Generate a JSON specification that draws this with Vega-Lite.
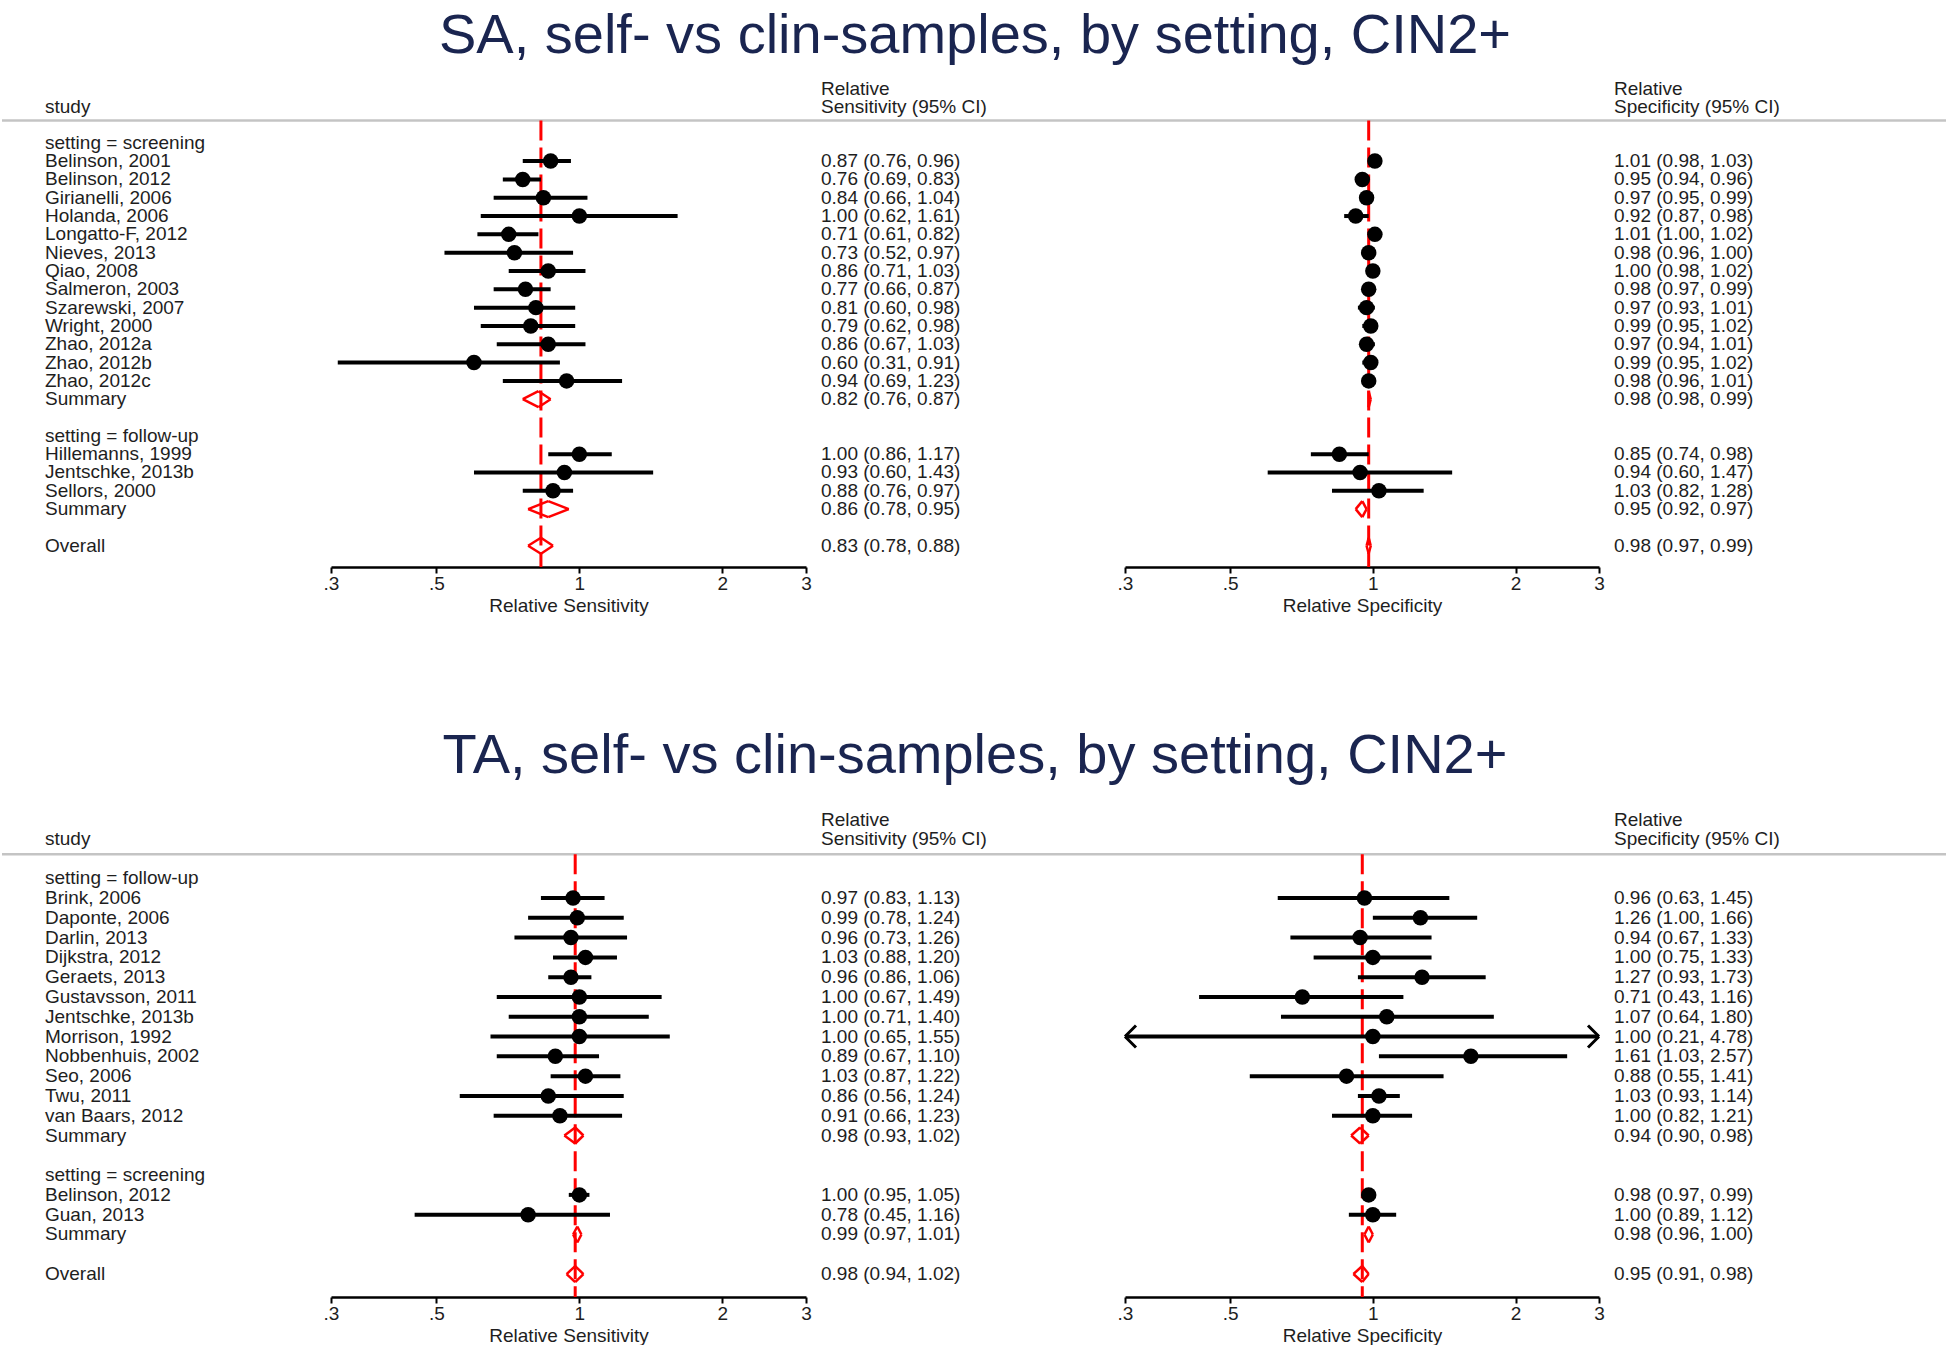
{
  "$schema": "https://vega.github.io/schema/vega-lite/v6.json",
  "padding": {"top": 8, "left": 0, "right": 0, "bottom": 0},
  "background": "white",
  "config": {
    "view": {"stroke": null},
    "font": "Liberation Sans",
    "text": {"font": "Liberation Sans", "fontSize": 19, "color": "#1e1e1e"},
    "axis": {
      "domainColor": "#000000", "domainWidth": 2.5,
      "tickColor": "#000000", "tickWidth": 2, "tickSize": 6,
      "labelFont": "Liberation Sans", "labelFontSize": 19, "labelColor": "#1e1e1e",
      "labelPadding": 1, "labelFlush": false, "labelOverlap": false,
      "titleFont": "Liberation Sans", "titleFontSize": 19, "titleFontWeight": "normal",
      "titleColor": "#1e1e1e", "titlePadding": 3, "grid": false
    },
    "title": {"font": "Liberation Sans", "fontSize": 56, "fontWeight": "normal", "color": "#1a2550", "anchor": "middle", "offset": 20, "baseline": "alphabetic"}
  },
  "datasets": {
    "sa": [
      {"row": 0, "kind": "group", "label": "setting = screening"},
      {"row": 1, "kind": "study", "label": "Belinson, 2001", "s": 0.87, "sl": 0.76, "sh": 0.96, "st": "0.87 (0.76, 0.96)", "p": 1.01, "pl": 0.98, "ph": 1.03, "pt": "1.01 (0.98, 1.03)"},
      {"row": 2, "kind": "study", "label": "Belinson, 2012", "s": 0.76, "sl": 0.69, "sh": 0.83, "st": "0.76 (0.69, 0.83)", "p": 0.95, "pl": 0.94, "ph": 0.96, "pt": "0.95 (0.94, 0.96)"},
      {"row": 3, "kind": "study", "label": "Girianelli, 2006", "s": 0.84, "sl": 0.66, "sh": 1.04, "st": "0.84 (0.66, 1.04)", "p": 0.97, "pl": 0.95, "ph": 0.99, "pt": "0.97 (0.95, 0.99)"},
      {"row": 4, "kind": "study", "label": "Holanda, 2006", "s": 1.00, "sl": 0.62, "sh": 1.61, "st": "1.00 (0.62, 1.61)", "p": 0.92, "pl": 0.87, "ph": 0.98, "pt": "0.92 (0.87, 0.98)"},
      {"row": 5, "kind": "study", "label": "Longatto-F, 2012", "s": 0.71, "sl": 0.61, "sh": 0.82, "st": "0.71 (0.61, 0.82)", "p": 1.01, "pl": 1.00, "ph": 1.02, "pt": "1.01 (1.00, 1.02)"},
      {"row": 6, "kind": "study", "label": "Nieves, 2013", "s": 0.73, "sl": 0.52, "sh": 0.97, "st": "0.73 (0.52, 0.97)", "p": 0.98, "pl": 0.96, "ph": 1.00, "pt": "0.98 (0.96, 1.00)"},
      {"row": 7, "kind": "study", "label": "Qiao, 2008", "s": 0.86, "sl": 0.71, "sh": 1.03, "st": "0.86 (0.71, 1.03)", "p": 1.00, "pl": 0.98, "ph": 1.02, "pt": "1.00 (0.98, 1.02)"},
      {"row": 8, "kind": "study", "label": "Salmeron, 2003", "s": 0.77, "sl": 0.66, "sh": 0.87, "st": "0.77 (0.66, 0.87)", "p": 0.98, "pl": 0.97, "ph": 0.99, "pt": "0.98 (0.97, 0.99)"},
      {"row": 9, "kind": "study", "label": "Szarewski, 2007", "s": 0.81, "sl": 0.60, "sh": 0.98, "st": "0.81 (0.60, 0.98)", "p": 0.97, "pl": 0.93, "ph": 1.01, "pt": "0.97 (0.93, 1.01)"},
      {"row": 10, "kind": "study", "label": "Wright, 2000", "s": 0.79, "sl": 0.62, "sh": 0.98, "st": "0.79 (0.62, 0.98)", "p": 0.99, "pl": 0.95, "ph": 1.02, "pt": "0.99 (0.95, 1.02)"},
      {"row": 11, "kind": "study", "label": "Zhao, 2012a", "s": 0.86, "sl": 0.67, "sh": 1.03, "st": "0.86 (0.67, 1.03)", "p": 0.97, "pl": 0.94, "ph": 1.01, "pt": "0.97 (0.94, 1.01)"},
      {"row": 12, "kind": "study", "label": "Zhao, 2012b", "s": 0.60, "sl": 0.31, "sh": 0.91, "st": "0.60 (0.31, 0.91)", "p": 0.99, "pl": 0.95, "ph": 1.02, "pt": "0.99 (0.95, 1.02)"},
      {"row": 13, "kind": "study", "label": "Zhao, 2012c", "s": 0.94, "sl": 0.69, "sh": 1.23, "st": "0.94 (0.69, 1.23)", "p": 0.98, "pl": 0.96, "ph": 1.01, "pt": "0.98 (0.96, 1.01)"},
      {"row": 14, "kind": "summary", "label": "Summary", "s": 0.82, "sl": 0.76, "sh": 0.87, "st": "0.82 (0.76, 0.87)", "p": 0.98, "pl": 0.98, "ph": 0.99, "pt": "0.98 (0.98, 0.99)"},
      {"row": 16, "kind": "group", "label": "setting = follow-up"},
      {"row": 17, "kind": "study", "label": "Hillemanns, 1999", "s": 1.00, "sl": 0.86, "sh": 1.17, "st": "1.00 (0.86, 1.17)", "p": 0.85, "pl": 0.74, "ph": 0.98, "pt": "0.85 (0.74, 0.98)"},
      {"row": 18, "kind": "study", "label": "Jentschke, 2013b", "s": 0.93, "sl": 0.60, "sh": 1.43, "st": "0.93 (0.60, 1.43)", "p": 0.94, "pl": 0.60, "ph": 1.47, "pt": "0.94 (0.60, 1.47)"},
      {"row": 19, "kind": "study", "label": "Sellors, 2000", "s": 0.88, "sl": 0.76, "sh": 0.97, "st": "0.88 (0.76, 0.97)", "p": 1.03, "pl": 0.82, "ph": 1.28, "pt": "1.03 (0.82, 1.28)"},
      {"row": 20, "kind": "summary", "label": "Summary", "s": 0.86, "sl": 0.78, "sh": 0.95, "st": "0.86 (0.78, 0.95)", "p": 0.95, "pl": 0.92, "ph": 0.97, "pt": "0.95 (0.92, 0.97)"},
      {"row": 22, "kind": "overall", "label": "Overall", "s": 0.83, "sl": 0.78, "sh": 0.88, "st": "0.83 (0.78, 0.88)", "p": 0.98, "pl": 0.97, "ph": 0.99, "pt": "0.98 (0.97, 0.99)"}
    ],
    "ta": [
      {"row": 0, "kind": "group", "label": "setting = follow-up"},
      {"row": 1, "kind": "study", "label": "Brink, 2006", "s": 0.97, "sl": 0.83, "sh": 1.13, "st": "0.97 (0.83, 1.13)", "p": 0.96, "pl": 0.63, "ph": 1.45, "pt": "0.96 (0.63, 1.45)"},
      {"row": 2, "kind": "study", "label": "Daponte, 2006", "s": 0.99, "sl": 0.78, "sh": 1.24, "st": "0.99 (0.78, 1.24)", "p": 1.26, "pl": 1.00, "ph": 1.66, "pt": "1.26 (1.00, 1.66)"},
      {"row": 3, "kind": "study", "label": "Darlin, 2013", "s": 0.96, "sl": 0.73, "sh": 1.26, "st": "0.96 (0.73, 1.26)", "p": 0.94, "pl": 0.67, "ph": 1.33, "pt": "0.94 (0.67, 1.33)"},
      {"row": 4, "kind": "study", "label": "Dijkstra, 2012", "s": 1.03, "sl": 0.88, "sh": 1.20, "st": "1.03 (0.88, 1.20)", "p": 1.00, "pl": 0.75, "ph": 1.33, "pt": "1.00 (0.75, 1.33)"},
      {"row": 5, "kind": "study", "label": "Geraets, 2013", "s": 0.96, "sl": 0.86, "sh": 1.06, "st": "0.96 (0.86, 1.06)", "p": 1.27, "pl": 0.93, "ph": 1.73, "pt": "1.27 (0.93, 1.73)"},
      {"row": 6, "kind": "study", "label": "Gustavsson, 2011", "s": 1.00, "sl": 0.67, "sh": 1.49, "st": "1.00 (0.67, 1.49)", "p": 0.71, "pl": 0.43, "ph": 1.16, "pt": "0.71 (0.43, 1.16)"},
      {"row": 7, "kind": "study", "label": "Jentschke, 2013b", "s": 1.00, "sl": 0.71, "sh": 1.40, "st": "1.00 (0.71, 1.40)", "p": 1.07, "pl": 0.64, "ph": 1.80, "pt": "1.07 (0.64, 1.80)"},
      {"row": 8, "kind": "study", "label": "Morrison, 1992", "s": 1.00, "sl": 0.65, "sh": 1.55, "st": "1.00 (0.65, 1.55)", "p": 1.00, "pl": 0.21, "ph": 4.78, "pt": "1.00 (0.21, 4.78)"},
      {"row": 9, "kind": "study", "label": "Nobbenhuis, 2002", "s": 0.89, "sl": 0.67, "sh": 1.10, "st": "0.89 (0.67, 1.10)", "p": 1.61, "pl": 1.03, "ph": 2.57, "pt": "1.61 (1.03, 2.57)"},
      {"row": 10, "kind": "study", "label": "Seo, 2006", "s": 1.03, "sl": 0.87, "sh": 1.22, "st": "1.03 (0.87, 1.22)", "p": 0.88, "pl": 0.55, "ph": 1.41, "pt": "0.88 (0.55, 1.41)"},
      {"row": 11, "kind": "study", "label": "Twu, 2011", "s": 0.86, "sl": 0.56, "sh": 1.24, "st": "0.86 (0.56, 1.24)", "p": 1.03, "pl": 0.93, "ph": 1.14, "pt": "1.03 (0.93, 1.14)"},
      {"row": 12, "kind": "study", "label": "van Baars, 2012", "s": 0.91, "sl": 0.66, "sh": 1.23, "st": "0.91 (0.66, 1.23)", "p": 1.00, "pl": 0.82, "ph": 1.21, "pt": "1.00 (0.82, 1.21)"},
      {"row": 13, "kind": "summary", "label": "Summary", "s": 0.98, "sl": 0.93, "sh": 1.02, "st": "0.98 (0.93, 1.02)", "p": 0.94, "pl": 0.90, "ph": 0.98, "pt": "0.94 (0.90, 0.98)"},
      {"row": 15, "kind": "group", "label": "setting = screening"},
      {"row": 16, "kind": "study", "label": "Belinson, 2012", "s": 1.00, "sl": 0.95, "sh": 1.05, "st": "1.00 (0.95, 1.05)", "p": 0.98, "pl": 0.97, "ph": 0.99, "pt": "0.98 (0.97, 0.99)"},
      {"row": 17, "kind": "study", "label": "Guan, 2013", "s": 0.78, "sl": 0.45, "sh": 1.16, "st": "0.78 (0.45, 1.16)", "p": 1.00, "pl": 0.89, "ph": 1.12, "pt": "1.00 (0.89, 1.12)"},
      {"row": 18, "kind": "summary", "label": "Summary", "s": 0.99, "sl": 0.97, "sh": 1.01, "st": "0.99 (0.97, 1.01)", "p": 0.98, "pl": 0.96, "ph": 1.00, "pt": "0.98 (0.96, 1.00)"},
      {"row": 20, "kind": "overall", "label": "Overall", "s": 0.98, "sl": 0.94, "sh": 1.02, "st": "0.98 (0.94, 1.02)", "p": 0.95, "pl": 0.91, "ph": 0.98, "pt": "0.95 (0.91, 0.98)"}
    ]
  },
  "vconcat": [
    {
      "title": {"text": "SA, self- vs clin-samples, by setting, CIN2+", "offset": 10},
      "bounds": "flush",
      "spacing": 0,
      "resolve": {"scale": {"x": "independent", "y": "independent"}},
      "hconcat": [
        {
          "width": 329, "height": 492,
          "layer": [
            {"data": {"values": [{}]}, "mark": {"type": "rule", "color": "#c4c4c4", "strokeWidth": 2.5},
             "encoding": {"y": {"datum": -1.21, "type": "quantitative", "scale": {"domain": [-3.7, 23.16], "reverse": true, "nice": false, "zero": false}, "axis": null}}},
            {"data": {"values": [{}]}, "mark": {"type": "text", "align": "left", "baseline": "middle", "dx": 43},
             "encoding": {"x": {"datum": 0, "type": "quantitative", "scale": {"domain": [0, 1]}, "axis": null}, "y": {"datum": -1.97, "type": "quantitative"}, "text": {"value": "study"}}},
            {"data": {"name": "sa"}, "mark": {"type": "text", "align": "left", "baseline": "middle", "dx": 43},
             "encoding": {"x": {"datum": 0, "type": "quantitative"}, "y": {"field": "row", "type": "quantitative"}, "text": {"field": "label"}}}
          ]
        },
        {
          "width": 475, "height": 492,
          "layer": [
            {"data": {"values": [{}]}, "mark": {"type": "rule", "color": "#c4c4c4", "strokeWidth": 2.5},
             "encoding": {"y": {"datum": -1.21, "type": "quantitative", "scale": {"domain": [-3.7, 23.16], "reverse": true, "nice": false, "zero": false}, "axis": null}}},
            {"data": {"name": "sa"}, "transform": [{"filter": "datum.kind == 'overall'"}],
             "mark": {"type": "rule", "color": "#ff0000", "strokeWidth": 3, "strokeDash": [20, 7]},
             "encoding": {"x": {"field": "s", "type": "quantitative", "scale": {"type": "log", "domain": [0.3, 3], "nice": false, "clamp": true}, "axis": {"title": "Relative Sensitivity", "values": [0.3, 0.5, 1, 2, 3], "labelExpr": "datum.value == 0.3 ? '.3' : datum.value == 0.5 ? '.5' : datum.label"}},
                          "y": {"datum": -1.21, "type": "quantitative"}, "y2": {"datum": 23.16}}},
            {"data": {"name": "sa"}, "transform": [{"filter": "datum.kind == 'study'"}],
             "mark": {"type": "rule", "color": "#000000", "strokeWidth": 4},
             "encoding": {"x": {"field": "sl", "type": "quantitative"}, "x2": {"field": "sh"}, "y": {"field": "row", "type": "quantitative"}}},
            {"data": {"name": "sa"}, "transform": [{"filter": "datum.kind == 'study'"}],
             "mark": {"type": "point", "shape": "circle", "filled": true, "color": "#000000", "size": 240, "opacity": 1},
             "encoding": {"x": {"field": "s", "type": "quantitative"}, "y": {"field": "row", "type": "quantitative"}}},
            {"data": {"name": "sa"}, "transform": [{"filter": "datum.kind != 'study' && datum.kind != 'group'"}],
             "mark": {"type": "rule", "color": "#ff0000", "strokeWidth": 2.5, "y2Offset": -8},
             "encoding": {"x": {"field": "sl", "type": "quantitative"}, "x2": {"field": "s"}, "y": {"field": "row", "type": "quantitative"}, "y2": {"field": "row"}}},
            {"data": {"name": "sa"}, "transform": [{"filter": "datum.kind != 'study' && datum.kind != 'group'"}],
             "mark": {"type": "rule", "color": "#ff0000", "strokeWidth": 2.5, "yOffset": -8},
             "encoding": {"x": {"field": "s", "type": "quantitative"}, "x2": {"field": "sh"}, "y": {"field": "row", "type": "quantitative"}, "y2": {"field": "row"}}},
            {"data": {"name": "sa"}, "transform": [{"filter": "datum.kind != 'study' && datum.kind != 'group'"}],
             "mark": {"type": "rule", "color": "#ff0000", "strokeWidth": 2.5, "y2Offset": 8},
             "encoding": {"x": {"field": "sl", "type": "quantitative"}, "x2": {"field": "s"}, "y": {"field": "row", "type": "quantitative"}, "y2": {"field": "row"}}},
            {"data": {"name": "sa"}, "transform": [{"filter": "datum.kind != 'study' && datum.kind != 'group'"}],
             "mark": {"type": "rule", "color": "#ff0000", "strokeWidth": 2.5, "yOffset": 8},
             "encoding": {"x": {"field": "s", "type": "quantitative"}, "x2": {"field": "sh"}, "y": {"field": "row", "type": "quantitative"}, "y2": {"field": "row"}}}
          ]
        },
        {
          "width": 319, "height": 492,
          "layer": [
            {"data": {"values": [{}]}, "mark": {"type": "rule", "color": "#c4c4c4", "strokeWidth": 2.5},
             "encoding": {"y": {"datum": -1.21, "type": "quantitative", "scale": {"domain": [-3.7, 23.16], "reverse": true, "nice": false, "zero": false}, "axis": null}}},
            {"data": {"values": [{}]}, "mark": {"type": "text", "align": "left", "baseline": "middle", "dx": 15},
             "encoding": {"x": {"datum": 0, "type": "quantitative", "scale": {"domain": [0, 1]}, "axis": null}, "y": {"datum": -2.96, "type": "quantitative"}, "text": {"value": "Relative"}}},
            {"data": {"values": [{}]}, "mark": {"type": "text", "align": "left", "baseline": "middle", "dx": 15},
             "encoding": {"x": {"datum": 0, "type": "quantitative"}, "y": {"datum": -1.97, "type": "quantitative"}, "text": {"value": "Sensitivity (95% CI)"}}},
            {"data": {"name": "sa"}, "transform": [{"filter": "datum.kind != 'group'"}], "mark": {"type": "text", "align": "left", "baseline": "middle", "dx": 15},
             "encoding": {"x": {"datum": 0, "type": "quantitative"}, "y": {"field": "row", "type": "quantitative"}, "text": {"field": "st"}}}
          ]
        },
        {
          "width": 474, "height": 492,
          "layer": [
            {"data": {"values": [{}]}, "mark": {"type": "rule", "color": "#c4c4c4", "strokeWidth": 2.5},
             "encoding": {"y": {"datum": -1.21, "type": "quantitative", "scale": {"domain": [-3.7, 23.16], "reverse": true, "nice": false, "zero": false}, "axis": null}}},
            {"data": {"name": "sa"}, "transform": [{"filter": "datum.kind == 'overall'"}],
             "mark": {"type": "rule", "color": "#ff0000", "strokeWidth": 3, "strokeDash": [20, 7]},
             "encoding": {"x": {"field": "p", "type": "quantitative", "scale": {"type": "log", "domain": [0.3, 3], "nice": false, "clamp": true}, "axis": {"title": "Relative Specificity", "values": [0.3, 0.5, 1, 2, 3], "labelExpr": "datum.value == 0.3 ? '.3' : datum.value == 0.5 ? '.5' : datum.label"}},
                          "y": {"datum": -1.21, "type": "quantitative"}, "y2": {"datum": 23.16}}},
            {"data": {"name": "sa"}, "transform": [{"filter": "datum.kind == 'study'"}],
             "mark": {"type": "rule", "color": "#000000", "strokeWidth": 4},
             "encoding": {"x": {"field": "pl", "type": "quantitative"}, "x2": {"field": "ph"}, "y": {"field": "row", "type": "quantitative"}}},
            {"data": {"name": "sa"}, "transform": [{"filter": "datum.kind == 'study'"}],
             "mark": {"type": "point", "shape": "circle", "filled": true, "color": "#000000", "size": 240, "opacity": 1},
             "encoding": {"x": {"field": "p", "type": "quantitative"}, "y": {"field": "row", "type": "quantitative"}}},
            {"data": {"name": "sa"}, "transform": [{"filter": "datum.kind != 'study' && datum.kind != 'group'"}],
             "mark": {"type": "rule", "color": "#ff0000", "strokeWidth": 2.5, "y2Offset": -8},
             "encoding": {"x": {"field": "pl", "type": "quantitative"}, "x2": {"field": "p"}, "y": {"field": "row", "type": "quantitative"}, "y2": {"field": "row"}}},
            {"data": {"name": "sa"}, "transform": [{"filter": "datum.kind != 'study' && datum.kind != 'group'"}],
             "mark": {"type": "rule", "color": "#ff0000", "strokeWidth": 2.5, "yOffset": -8},
             "encoding": {"x": {"field": "p", "type": "quantitative"}, "x2": {"field": "ph"}, "y": {"field": "row", "type": "quantitative"}, "y2": {"field": "row"}}},
            {"data": {"name": "sa"}, "transform": [{"filter": "datum.kind != 'study' && datum.kind != 'group'"}],
             "mark": {"type": "rule", "color": "#ff0000", "strokeWidth": 2.5, "y2Offset": 8},
             "encoding": {"x": {"field": "pl", "type": "quantitative"}, "x2": {"field": "p"}, "y": {"field": "row", "type": "quantitative"}, "y2": {"field": "row"}}},
            {"data": {"name": "sa"}, "transform": [{"filter": "datum.kind != 'study' && datum.kind != 'group'"}],
             "mark": {"type": "rule", "color": "#ff0000", "strokeWidth": 2.5, "yOffset": 8},
             "encoding": {"x": {"field": "p", "type": "quantitative"}, "x2": {"field": "ph"}, "y": {"field": "row", "type": "quantitative"}, "y2": {"field": "row"}}}
          ]
        },
        {
          "width": 349, "height": 492,
          "layer": [
            {"data": {"values": [{}]}, "mark": {"type": "rule", "color": "#c4c4c4", "strokeWidth": 2.5},
             "encoding": {"y": {"datum": -1.21, "type": "quantitative", "scale": {"domain": [-3.7, 23.16], "reverse": true, "nice": false, "zero": false}, "axis": null}}},
            {"data": {"values": [{}]}, "mark": {"type": "text", "align": "left", "baseline": "middle", "dx": 15},
             "encoding": {"x": {"datum": 0, "type": "quantitative", "scale": {"domain": [0, 1]}, "axis": null}, "y": {"datum": -2.96, "type": "quantitative"}, "text": {"value": "Relative"}}},
            {"data": {"values": [{}]}, "mark": {"type": "text", "align": "left", "baseline": "middle", "dx": 15},
             "encoding": {"x": {"datum": 0, "type": "quantitative"}, "y": {"datum": -1.97, "type": "quantitative"}, "text": {"value": "Specificity (95% CI)"}}},
            {"data": {"name": "sa"}, "transform": [{"filter": "datum.kind != 'group'"}], "mark": {"type": "text", "align": "left", "baseline": "middle", "dx": 15},
             "encoding": {"x": {"datum": 0, "type": "quantitative"}, "y": {"field": "row", "type": "quantitative"}, "text": {"field": "pt"}}}
          ]
        }
      ]
    },
    {
      "title": {"text": "TA, self- vs clin-samples, by setting, CIN2+", "offset": 20},
      "bounds": "flush",
      "spacing": 0,
      "resolve": {"scale": {"x": "independent", "y": "independent"}},
      "hconcat": [
        {
          "width": 329, "height": 492,
          "layer": [
            {"data": {"values": [{}]}, "mark": {"type": "rule", "color": "#c4c4c4", "strokeWidth": 2.5},
             "encoding": {"y": {"datum": -1.21, "type": "quantitative", "scale": {"domain": [-3.7, 21.16], "reverse": true, "nice": false, "zero": false}, "axis": null}}},
            {"data": {"values": [{}]}, "mark": {"type": "text", "align": "left", "baseline": "middle", "dx": 43},
             "encoding": {"x": {"datum": 0, "type": "quantitative", "scale": {"domain": [0, 1]}, "axis": null}, "y": {"datum": -1.97, "type": "quantitative"}, "text": {"value": "study"}}},
            {"data": {"name": "ta"}, "mark": {"type": "text", "align": "left", "baseline": "middle", "dx": 43},
             "encoding": {"x": {"datum": 0, "type": "quantitative"}, "y": {"field": "row", "type": "quantitative"}, "text": {"field": "label"}}}
          ]
        },
        {
          "width": 475, "height": 492,
          "layer": [
            {"data": {"values": [{}]}, "mark": {"type": "rule", "color": "#c4c4c4", "strokeWidth": 2.5},
             "encoding": {"y": {"datum": -1.21, "type": "quantitative", "scale": {"domain": [-3.7, 21.16], "reverse": true, "nice": false, "zero": false}, "axis": null}}},
            {"data": {"name": "ta"}, "transform": [{"filter": "datum.kind == 'overall'"}],
             "mark": {"type": "rule", "color": "#ff0000", "strokeWidth": 3, "strokeDash": [20, 7]},
             "encoding": {"x": {"field": "s", "type": "quantitative", "scale": {"type": "log", "domain": [0.3, 3], "nice": false, "clamp": true}, "axis": {"title": "Relative Sensitivity", "values": [0.3, 0.5, 1, 2, 3], "labelExpr": "datum.value == 0.3 ? '.3' : datum.value == 0.5 ? '.5' : datum.label"}},
                          "y": {"datum": -1.21, "type": "quantitative"}, "y2": {"datum": 21.16}}},
            {"data": {"name": "ta"}, "transform": [{"filter": "datum.kind == 'study'"}],
             "mark": {"type": "rule", "color": "#000000", "strokeWidth": 4},
             "encoding": {"x": {"field": "sl", "type": "quantitative"}, "x2": {"field": "sh"}, "y": {"field": "row", "type": "quantitative"}}},
            {"data": {"name": "ta"}, "transform": [{"filter": "datum.kind == 'study'"}],
             "mark": {"type": "point", "shape": "circle", "filled": true, "color": "#000000", "size": 240, "opacity": 1},
             "encoding": {"x": {"field": "s", "type": "quantitative"}, "y": {"field": "row", "type": "quantitative"}}},
            {"data": {"name": "ta"}, "transform": [{"filter": "datum.kind != 'study' && datum.kind != 'group'"}],
             "mark": {"type": "rule", "color": "#ff0000", "strokeWidth": 2.5, "y2Offset": -8},
             "encoding": {"x": {"field": "sl", "type": "quantitative"}, "x2": {"field": "s"}, "y": {"field": "row", "type": "quantitative"}, "y2": {"field": "row"}}},
            {"data": {"name": "ta"}, "transform": [{"filter": "datum.kind != 'study' && datum.kind != 'group'"}],
             "mark": {"type": "rule", "color": "#ff0000", "strokeWidth": 2.5, "yOffset": -8},
             "encoding": {"x": {"field": "s", "type": "quantitative"}, "x2": {"field": "sh"}, "y": {"field": "row", "type": "quantitative"}, "y2": {"field": "row"}}},
            {"data": {"name": "ta"}, "transform": [{"filter": "datum.kind != 'study' && datum.kind != 'group'"}],
             "mark": {"type": "rule", "color": "#ff0000", "strokeWidth": 2.5, "y2Offset": 8},
             "encoding": {"x": {"field": "sl", "type": "quantitative"}, "x2": {"field": "s"}, "y": {"field": "row", "type": "quantitative"}, "y2": {"field": "row"}}},
            {"data": {"name": "ta"}, "transform": [{"filter": "datum.kind != 'study' && datum.kind != 'group'"}],
             "mark": {"type": "rule", "color": "#ff0000", "strokeWidth": 2.5, "yOffset": 8},
             "encoding": {"x": {"field": "s", "type": "quantitative"}, "x2": {"field": "sh"}, "y": {"field": "row", "type": "quantitative"}, "y2": {"field": "row"}}}
          ]
        },
        {
          "width": 319, "height": 492,
          "layer": [
            {"data": {"values": [{}]}, "mark": {"type": "rule", "color": "#c4c4c4", "strokeWidth": 2.5},
             "encoding": {"y": {"datum": -1.21, "type": "quantitative", "scale": {"domain": [-3.7, 21.16], "reverse": true, "nice": false, "zero": false}, "axis": null}}},
            {"data": {"values": [{}]}, "mark": {"type": "text", "align": "left", "baseline": "middle", "dx": 15},
             "encoding": {"x": {"datum": 0, "type": "quantitative", "scale": {"domain": [0, 1]}, "axis": null}, "y": {"datum": -2.96, "type": "quantitative"}, "text": {"value": "Relative"}}},
            {"data": {"values": [{}]}, "mark": {"type": "text", "align": "left", "baseline": "middle", "dx": 15},
             "encoding": {"x": {"datum": 0, "type": "quantitative"}, "y": {"datum": -1.97, "type": "quantitative"}, "text": {"value": "Sensitivity (95% CI)"}}},
            {"data": {"name": "ta"}, "transform": [{"filter": "datum.kind != 'group'"}], "mark": {"type": "text", "align": "left", "baseline": "middle", "dx": 15},
             "encoding": {"x": {"datum": 0, "type": "quantitative"}, "y": {"field": "row", "type": "quantitative"}, "text": {"field": "st"}}}
          ]
        },
        {
          "width": 474, "height": 492,
          "layer": [
            {"data": {"values": [{}]}, "mark": {"type": "rule", "color": "#c4c4c4", "strokeWidth": 2.5},
             "encoding": {"y": {"datum": -1.21, "type": "quantitative", "scale": {"domain": [-3.7, 21.16], "reverse": true, "nice": false, "zero": false}, "axis": null}}},
            {"data": {"name": "ta"}, "transform": [{"filter": "datum.kind == 'overall'"}],
             "mark": {"type": "rule", "color": "#ff0000", "strokeWidth": 3, "strokeDash": [20, 7]},
             "encoding": {"x": {"field": "p", "type": "quantitative", "scale": {"type": "log", "domain": [0.3, 3], "nice": false, "clamp": true}, "axis": {"title": "Relative Specificity", "values": [0.3, 0.5, 1, 2, 3], "labelExpr": "datum.value == 0.3 ? '.3' : datum.value == 0.5 ? '.5' : datum.label"}},
                          "y": {"datum": -1.21, "type": "quantitative"}, "y2": {"datum": 21.16}}},
            {"data": {"name": "ta"}, "transform": [{"filter": "datum.kind == 'study'"}],
             "mark": {"type": "rule", "color": "#000000", "strokeWidth": 4},
             "encoding": {"x": {"field": "pl", "type": "quantitative"}, "x2": {"field": "ph"}, "y": {"field": "row", "type": "quantitative"}}},
            {"data": {"name": "ta"}, "transform": [{"filter": "datum.kind == 'study' && datum.pl < 0.3"}],
             "mark": {"type": "point", "shape": "M0,0L1,-1M0,0L1,1", "size": 484, "filled": false, "color": "#000000", "strokeWidth": 3, "opacity": 1},
             "encoding": {"x": {"field": "pl", "type": "quantitative"}, "y": {"field": "row", "type": "quantitative"}}},
            {"data": {"name": "ta"}, "transform": [{"filter": "datum.kind == 'study' && datum.ph > 3"}],
             "mark": {"type": "point", "shape": "M0,0L-1,-1M0,0L-1,1", "size": 484, "filled": false, "color": "#000000", "strokeWidth": 3, "opacity": 1},
             "encoding": {"x": {"field": "ph", "type": "quantitative"}, "y": {"field": "row", "type": "quantitative"}}},
            {"data": {"name": "ta"}, "transform": [{"filter": "datum.kind == 'study'"}],
             "mark": {"type": "point", "shape": "circle", "filled": true, "color": "#000000", "size": 240, "opacity": 1},
             "encoding": {"x": {"field": "p", "type": "quantitative"}, "y": {"field": "row", "type": "quantitative"}}},
            {"data": {"name": "ta"}, "transform": [{"filter": "datum.kind != 'study' && datum.kind != 'group'"}],
             "mark": {"type": "rule", "color": "#ff0000", "strokeWidth": 2.5, "y2Offset": -8},
             "encoding": {"x": {"field": "pl", "type": "quantitative"}, "x2": {"field": "p"}, "y": {"field": "row", "type": "quantitative"}, "y2": {"field": "row"}}},
            {"data": {"name": "ta"}, "transform": [{"filter": "datum.kind != 'study' && datum.kind != 'group'"}],
             "mark": {"type": "rule", "color": "#ff0000", "strokeWidth": 2.5, "yOffset": -8},
             "encoding": {"x": {"field": "p", "type": "quantitative"}, "x2": {"field": "ph"}, "y": {"field": "row", "type": "quantitative"}, "y2": {"field": "row"}}},
            {"data": {"name": "ta"}, "transform": [{"filter": "datum.kind != 'study' && datum.kind != 'group'"}],
             "mark": {"type": "rule", "color": "#ff0000", "strokeWidth": 2.5, "y2Offset": 8},
             "encoding": {"x": {"field": "pl", "type": "quantitative"}, "x2": {"field": "p"}, "y": {"field": "row", "type": "quantitative"}, "y2": {"field": "row"}}},
            {"data": {"name": "ta"}, "transform": [{"filter": "datum.kind != 'study' && datum.kind != 'group'"}],
             "mark": {"type": "rule", "color": "#ff0000", "strokeWidth": 2.5, "yOffset": 8},
             "encoding": {"x": {"field": "p", "type": "quantitative"}, "x2": {"field": "ph"}, "y": {"field": "row", "type": "quantitative"}, "y2": {"field": "row"}}}
          ]
        },
        {
          "width": 349, "height": 492,
          "layer": [
            {"data": {"values": [{}]}, "mark": {"type": "rule", "color": "#c4c4c4", "strokeWidth": 2.5},
             "encoding": {"y": {"datum": -1.21, "type": "quantitative", "scale": {"domain": [-3.7, 21.16], "reverse": true, "nice": false, "zero": false}, "axis": null}}},
            {"data": {"values": [{}]}, "mark": {"type": "text", "align": "left", "baseline": "middle", "dx": 15},
             "encoding": {"x": {"datum": 0, "type": "quantitative", "scale": {"domain": [0, 1]}, "axis": null}, "y": {"datum": -2.96, "type": "quantitative"}, "text": {"value": "Relative"}}},
            {"data": {"values": [{}]}, "mark": {"type": "text", "align": "left", "baseline": "middle", "dx": 15},
             "encoding": {"x": {"datum": 0, "type": "quantitative"}, "y": {"datum": -1.97, "type": "quantitative"}, "text": {"value": "Specificity (95% CI)"}}},
            {"data": {"name": "ta"}, "transform": [{"filter": "datum.kind != 'group'"}], "mark": {"type": "text", "align": "left", "baseline": "middle", "dx": 15},
             "encoding": {"x": {"datum": 0, "type": "quantitative"}, "y": {"field": "row", "type": "quantitative"}, "text": {"field": "pt"}}}
          ]
        }
      ]
    }
  ],
  "spacing": 113
}
